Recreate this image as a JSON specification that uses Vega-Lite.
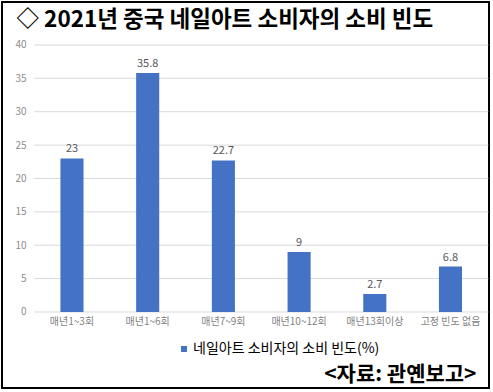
{
  "$schema": "https://vega.github.io/schema/vega-lite/v6.json",
  "width": 487,
  "height": 386,
  "autosize": {"type": "none"},
  "padding": {"left": 2, "top": 2, "right": 4, "bottom": 4},
  "background": "white",
  "datasets": {
    "bars": [
      {"cat": "매년1~3회", "value": 23, "series": "네일아트 소비자의 소비 빈도(%)"},
      {"cat": "매년1~6회", "value": 35.8, "series": "네일아트 소비자의 소비 빈도(%)"},
      {"cat": "매년7~9회", "value": 22.7, "series": "네일아트 소비자의 소비 빈도(%)"},
      {"cat": "매년10~12회", "value": 9, "series": "네일아트 소비자의 소비 빈도(%)"},
      {"cat": "매년13회이상", "value": 2.7, "series": "네일아트 소비자의 소비 빈도(%)"},
      {"cat": "고정 빈도 없음", "value": 6.8, "series": "네일아트 소비자의 소비 빈도(%)"}
    ],
    "grid": [{"g": 0}, {"g": 5}, {"g": 10}, {"g": 15}, {"g": 20}, {"g": 25}, {"g": 30}, {"g": 35}, {"g": 40}]
  },
  "layer": [
    {
      "data": {"name": "grid"},
      "mark": {"type": "rule", "color": "#d9d9d9", "strokeWidth": 1},
      "encoding": {
        "x": {"datum": "매년1~3회", "type": "nominal", "bandPosition": 0},
        "x2": {"datum": "고정 빈도 없음", "bandPosition": 1},
        "y": {"field": "g", "type": "quantitative"}
      }
    },
    {
      "data": {"name": "bars"},
      "mark": {"type": "bar", "width": {"band": 0.305}},
      "encoding": {
        "x": {
          "field": "cat",
          "type": "nominal",
          "scale": {
            "domain": ["매년1~3회", "매년1~6회", "매년7~9회", "매년10~12회", "매년13회이상", "고정 빈도 없음"],
            "paddingInner": 0,
            "paddingOuter": 0.2166,
            "align": 0.98
          },
          "axis": {
            "title": "<자료: 관옌보고>",
            "titleFont": "Noto Sans CJK KR",
            "titleFontSize": 21,
            "titleFontWeight": "bold",
            "titleColor": "#000000",
            "titleAnchor": null,
            "titleAlign": "right",
            "titleBaseline": "middle",
            "titleX": 474,
            "titleY": 62,
            "offset": -76,
            "bandPosition": 0.5,
            "domain": false,
            "ticks": false,
            "grid": false,
            "labelAngle": 0,
            "labelAlign": "center",
            "labelPadding": 9,
            "labelFont": "Noto Sans CJK KR",
            "labelFontSize": 10,
            "labelColor": "#7f7f7f"
          }
        },
        "y": {
          "field": "value",
          "type": "quantitative",
          "scale": {"domain": [-11.39, 46.44], "nice": false, "zero": false},
          "axis": {
            "title": "◇ 2021년 중국 네일아트 소비자의 소비 빈도",
            "titleFont": "Noto Sans CJK KR",
            "titleFontSize": 22.5,
            "titleFontWeight": "bold",
            "titleColor": "#000000",
            "titleAngle": 0,
            "titleAnchor": null,
            "titleAlign": "left",
            "titleBaseline": "middle",
            "titleX": -16,
            "titleY": 17,
            "values": [0, 5, 10, 15, 20, 25, 30, 35, 40],
            "offset": -30,
            "labelPadding": 6,
            "domain": false,
            "ticks": false,
            "grid": false,
            "labelFont": "Noto Sans CJK KR",
            "labelFontSize": 10,
            "labelColor": "#8c8c8c"
          }
        },
        "color": {
          "field": "series",
          "type": "nominal",
          "scale": {"range": ["#4472C4"]},
          "legend": {
            "orient": "none",
            "legendX": 175,
            "legendY": 340,
            "title": null,
            "symbolType": "square",
            "symbolSize": 36,
            "symbolStrokeWidth": 0,
            "labelFont": "Noto Sans CJK KR",
            "labelFontSize": 14,
            "labelLimit": 400,
            "labelColor": "#000000",
            "labelOffset": 2
          }
        }
      }
    },
    {
      "data": {"name": "bars"},
      "mark": {"type": "text", "baseline": "bottom", "dy": -4, "font": "Noto Sans CJK KR", "fontSize": 11, "color": "#595959"},
      "encoding": {
        "x": {"field": "cat", "type": "nominal"},
        "y": {"field": "value", "type": "quantitative"},
        "text": {"field": "value", "type": "quantitative"}
      }
    }
  ],
  "config": {
    "view": {"stroke": "#000000", "strokeWidth": 2}
  }
}
